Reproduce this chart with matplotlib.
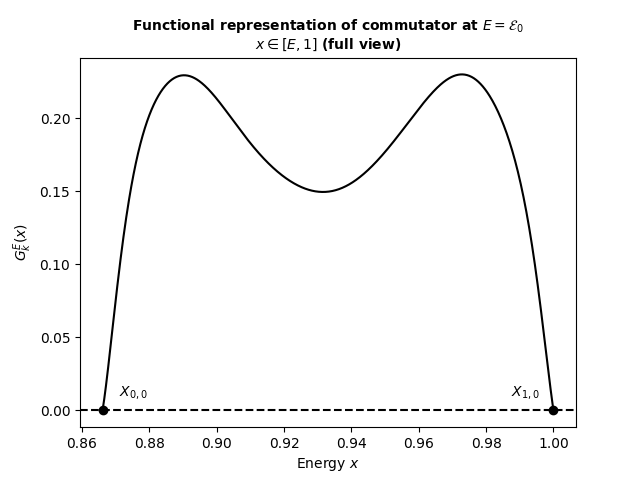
import numpy as np
import matplotlib
matplotlib.use("Agg")
import matplotlib.pyplot as plt

# curve values
energy = [0.8661, 0.8678, 0.8693, 0.8710, 0.8726, 0.8738, 0.8762, 0.8792, 0.8827,
          0.8856, 0.8898, 0.8946, 0.8995, 0.9055, 0.9114, 0.9173, 0.9233, 0.9307,
          0.9372, 0.9441, 0.9510, 0.9569, 0.9629, 0.9693, 0.9733, 0.9773, 0.9812,
          0.9847, 0.9877, 0.9901, 0.9928, 0.9949, 0.9967, 0.9983, 1.0000]
g_vals = [0.0, 0.0308, 0.0616, 0.0925, 0.1233, 0.1450, 0.1724, 0.1952, 0.2146,
          0.2260, 0.2301, 0.2260, 0.2135, 0.1975, 0.1792, 0.1655, 0.1546, 0.1493,
          0.1530, 0.1632, 0.1792, 0.1975, 0.2146, 0.2283, 0.2301, 0.2260, 0.2146,
          0.1975, 0.1792, 0.1587, 0.1233, 0.0925, 0.0616, 0.0308, 0.0]

roots_x = [0.8661, 1.0]
root_labels = ["$X_{0,0}$", "$X_{1,0}$"]

# least squares smoothing of the read points (reading noise makes kinks otherwise)
ex = np.array(energy)
gy = np.array(g_vals)
mid = 0.5 * (ex[0] + ex[-1])
half = 0.5 * (ex[-1] - ex[0])
wts = np.ones_like(ex)
wts[[0, -1]] = 20.0   # keep the roots in place
coef = np.polynomial.chebyshev.chebfit((ex - mid) / half, gy, 14, w=wts)
xs = np.linspace(ex[0], ex[-1], 800)
ys = np.polynomial.chebyshev.chebval((xs - mid) / half, coef)

fig, ax = plt.subplots(figsize=(6.4, 4.8), dpi=100)
ax.plot(xs, ys, color="black", lw=1.5)
ax.axhline(0, color="black", ls="--", lw=1.5)
ax.plot(roots_x, [0, 0], "o", color="black", ms=6)

ax.annotate(root_labels[0], (roots_x[0], 0), textcoords="offset points",
            xytext=(12, 7), ha="left", va="bottom", fontsize=10)
ax.annotate(root_labels[1], (roots_x[1], 0), textcoords="offset points",
            xytext=(-10, 7), ha="right", va="bottom", fontsize=10)

ax.set_xlabel("Energy $x$")
ax.set_ylabel("$G_k^E(x)$")
ax.set_title("Functional representation of commutator at $E = \\mathcal{E}_0$\n"
             "$x \\in [E, 1]$ (full view)", fontsize=10, fontweight="bold")

fig.savefig("out.png", dpi=100)
